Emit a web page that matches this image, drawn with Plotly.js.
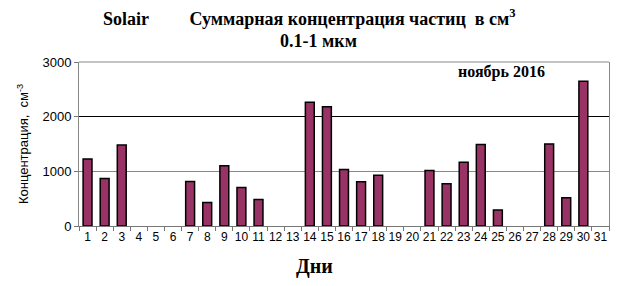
<!DOCTYPE html>
<html><head><meta charset="utf-8">
<script src="https://cdn.plot.ly/plotly-3.0.1.min.js"></script>
<style>html,body{margin:0;padding:0;background:#fff}#chart{width:631px;height:286px}</style>
</head><body><div id="chart"></div>
<script>
const days = ["1","2","3","4","5","6","7","8","9","10","11","12","13","14","15","16","17","18","19","20","21","22","23","24","25","26","27","28","29","30","31"];
const concentration = [1225,870,1480,null,null,null,812,430,1100,703,483,null,null,2262,2180,1035,810,930,null,null,1017,773,1168,1490,292,null,null,1502,517,2648,null];
const yTicks = [0,1000,2000,3000];
const titleLine1 = "Solair\u00a0\u00a0\u00a0\u00a0\u00a0\u00a0\u00a0\u00a0\u00a0Суммарная концентрация частиц \u00a0в см<sup>3</sup>";
const titleLine2 = "0.1-1 мкм";
const monthLabel = "ноябрь 2016";
const xTitle = "Дни";
const yTitle = "Концентрация,\u00a0 см<sup>-3</sup>";

const serif = 'Liberation Serif, Times New Roman, serif';
Plotly.newPlot('chart', [{
  type: 'bar', x: days, y: concentration,
  marker: {color: '#993366', line: {color: '#000', width: 1.5}},
  hoverinfo: 'none'
}, {
  type: 'scatter', mode: 'markers', x: days, y: concentration.map(() => null), yaxis: 'y2', showlegend: false, hoverinfo: 'none'
}], {
  width: 631, height: 286,
  margin: {l: 79, r: 22, t: 62, b: 60},
  paper_bgcolor: '#fff', plot_bgcolor: '#fff',
  showlegend: false, bargap: 0.48,
  font: {family: 'Liberation Sans, Arial, sans-serif', size: 12, color: '#000'},
  xaxis: {type: 'category', range: [-0.5, days.length - 0.5], autorange: false, tickvals: days, ticktext: days,
    ticks: 'outside', tickson: 'boundaries', ticklen: 4,
    tickcolor: '#777', showline: true, linecolor: '#777', linewidth: 1, mirror: false, showgrid: false,
    tickfont: {size: 12}, tickangle: 0},
  yaxis: {range: [0, 3000], tickvals: yTicks, ticks: 'outside', ticklen: 4, tickcolor: '#777',
    showline: true, linecolor: '#888', gridcolor: '#888', gridwidth: 1, zeroline: false, tickfont: {size: 13},
    title: {text: yTitle, standoff: 10, font: {size: 13}}},
  yaxis2: {overlaying: 'y', range: [0, 3000], tickvals: [2000], showticklabels: false, gridcolor: '#000', gridwidth: 1.2,
    zeroline: false, showline: true, side: 'right', linecolor: '#888', ticks: ''},
  shapes: [{type: 'line', xref: 'paper', yref: 'paper', x0: 0, x1: 1, y0: 1, y1: 1, line: {color: '#888', width: 1}}],
  annotations: [
    {text: titleLine1, xref: 'paper', yref: 'paper', x: 0.435, y: 1.27, xanchor: 'center', yanchor: 'middle', showarrow: false,
      font: {family: serif, size: 18, weight: 'bold', color: '#000'}},
    {text: titleLine2, xref: 'paper', yref: 'paper', x: 0.452, y: 1.13, xanchor: 'center', yanchor: 'middle', showarrow: false,
      font: {family: serif, size: 18, weight: 'bold', color: '#000'}},
    {text: monthLabel, xref: 'paper', yref: 'paper', x: 0.797, y: 0.94, xanchor: 'center', yanchor: 'middle',
      showarrow: false, font: {family: serif, size: 16, weight: 'bold', color: '#000'}},
    {text: xTitle, xref: 'paper', yref: 'paper', x: 0.445, y: -0.245, xanchor: 'center', yanchor: 'middle',
      showarrow: false, font: {family: serif, size: 20, weight: 'bold', color: '#000'}}
  ]
}, {displayModeBar: false, staticPlot: true});
</script></body></html>
